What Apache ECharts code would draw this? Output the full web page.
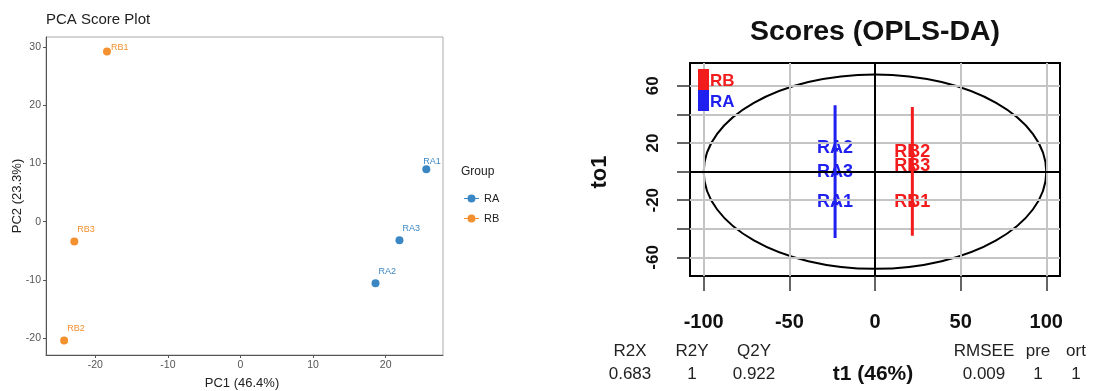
<!DOCTYPE html>
<html>
<head>
<meta charset="utf-8">
<script src="https://cdn.jsdelivr.net/npm/echarts@6/dist/echarts.min.js"></script>
<style>html,body{margin:0;padding:0;background:#fff}#chart{width:1094px;height:391px}</style>
</head>
<body>
<div id="chart"></div>
<script>
// ---------- PCA data ----------
const raNames = ['RA1', 'RA2', 'RA3'];
const raPC1 = [25.6, 18.6, 21.9];
const raPC2 = [9.0, -10.6, -3.2];
const rbNames = ['RB1', 'RB2', 'RB3'];
const rbPC1 = [-18.4, -24.3, -22.9];
const rbPC2 = [29.2, -20.4, -3.4];
const pcaXTicks = [-20, -10, 0, 10, 20];
const pcaYTicks = [-20, -10, 0, 10, 20, 30];
const pcaGroups = ['RA', 'RB'];

// ---------- OPLS-DA data ----------
const oplsRANames = ['RA1', 'RA2', 'RA3'];
const oplsRAt1 = [-23.3, -23.3, -23.3];
const oplsRAto1 = [-21, 16.5, 0];
const oplsRBNames = ['RB1', 'RB2', 'RB3'];
const oplsRBt1 = [21.8, 21.8, 21.8];
const oplsRBto1 = [-21, 13.5, 4.2];
const oplsRASpan = [-46.4, 46.5];
const oplsRBSpan = [-44.8, 45.3];
const ellipseRadii = [100, 68];
const oplsXTicks = [-100, -50, 0, 50, 100];
const oplsYTicks = [-60, -40, -20, 0, 20, 40, 60];
const oplsYLabels = [-60, -20, 20, 60];
const statNames = ['R2X', 'R2Y', 'Q2Y', 'RMSEE', 'pre', 'ort'];
const statValues = ['0.683', '1', '0.922', '0.009', '1', '1'];
const oplsLegend = ['RB', 'RA'];

// ---------- colours / styles ----------
const cRA = '#3b87c4', cRB = '#f39130';
const oRA = '#1f1ff0', oRB = '#f21c1c';
const F = '"Liberation Sans", Arial, sans-serif';

function pcaItems(names, xs, ys) {
  return names.map((n, i) => {
    const item = { name: n, value: [xs[i], ys[i]] };
    if (n === 'RB1') item.label = { position: [8, 0] };
    if (n === 'RA1') item.label = { position: [1, -4] };
    return item;
  });
}
function oplsItems(names, xs, ys) {
  return names.map((n, i) => ({ name: n, value: [xs[i], ys[i]] }));
}

const chart = echarts.init(document.getElementById('chart'), null, { renderer: 'canvas' });

const option = {
  animation: false,
  backgroundColor: '#fff',
  textStyle: { fontFamily: F },
  grid: [
    { left: 46, top: 37, width: 397, height: 318, show: true, borderColor: '#aaa', borderWidth: 1, outerBoundsMode: 'none', containLabel: false },
    { left: 690, top: 63, width: 370, height: 213, show: true, borderColor: '#000', borderWidth: 2, outerBoundsMode: 'none', containLabel: false }
  ],
  xAxis: [
    {
      gridIndex: 0, type: 'value', min: -26.8, max: 27.9,
      axisLine: { show: true, onZero: false, lineStyle: { color: '#555', width: 1 } },
      axisTick: { show: true, inside: false, length: 3, customValues: pcaXTicks, lineStyle: { color: '#555' } },
      axisLabel: { customValues: pcaXTicks, fontSize: 10.5, color: '#555', margin: 5, fontFamily: F },
      splitLine: { show: false }
    },
    {
      gridIndex: 1, type: 'value', min: -108, max: 108,
      axisLine: { show: false, onZero: false },
      axisTick: { show: true, inside: false, length: 15, customValues: oplsXTicks, lineStyle: { color: '#333', width: 1.5 } },
      axisLabel: { customValues: oplsXTicks, fontSize: 20, fontWeight: 'bold', color: '#111', margin: 36, fontFamily: F },
      splitLine: { show: false }
    }
  ],
  yAxis: [
    {
      gridIndex: 0, type: 'value', min: -22.9, max: 31.7,
      axisLine: { show: true, onZero: false, lineStyle: { color: '#555', width: 1 } },
      axisTick: { show: true, inside: false, length: 3, customValues: pcaYTicks, lineStyle: { color: '#555' } },
      axisLabel: { customValues: pcaYTicks, fontSize: 10.5, color: '#555', margin: 5, fontFamily: F },
      splitLine: { show: false }
    },
    {
      gridIndex: 1, type: 'value', min: -73, max: 76,
      axisLine: { show: false, onZero: false },
      axisTick: { show: true, inside: false, length: 13, customValues: oplsYTicks, lineStyle: { color: '#333', width: 1.5 } },
      axisLabel: { customValues: oplsYLabels, rotate: 90, fontSize: 17, fontWeight: 'bold', color: '#111', margin: 28, fontFamily: F },
      splitLine: { show: false }
    }
  ],
  legend: {
    data: pcaGroups, orient: 'vertical', left: 459, top: 188,
    itemWidth: 15, itemHeight: 8, itemGap: 9,
    icon: 'path://M0,3.5 L15,3.5 L15,4.5 L0,4.5 Z M11.5,4 A4,4 0 1 1 3.5,4 A4,4 0 1 1 11.5,4 Z',
    textStyle: { fontSize: 11, color: '#222', fontFamily: F },
    selectedMode: false
  },
  graphic: [
    { type: 'text', left: 46, top: 12, style: { text: 'PCA Score Plot', fontSize: 15, fill: '#222', fontFamily: F } },
    { type: 'text', x: 242, y: 383, style: { text: 'PC1 (46.4%)', fontSize: 13, fill: '#222', fontFamily: F, align: 'center', verticalAlign: 'middle' } },
    { type: 'text', x: 17, y: 196, rotation: Math.PI / 2, style: { text: 'PC2 (23.3%)', fontSize: 13, fill: '#222', fontFamily: F, align: 'center', verticalAlign: 'middle' } },
    { type: 'text', left: 461, top: 166, style: { text: 'Group', fontSize: 12, fill: '#222', fontFamily: F } },
    { type: 'text', x: 875, y: 32, style: { text: 'Scores (OPLS-DA)', fontSize: 28.5, fontWeight: 'bold', fill: '#111', fontFamily: F, align: 'center', verticalAlign: 'middle' } },
    { type: 'text', x: 600, y: 172, rotation: Math.PI / 2, style: { text: 'to1', fontSize: 22, fontWeight: 'bold', fill: '#111', fontFamily: F, align: 'center', verticalAlign: 'middle' } },
    // OPLS legend
    { type: 'rect', shape: { x: 698, y: 69, width: 11, height: 21 }, style: { fill: oRB }, z: 20 },
    { type: 'rect', shape: { x: 698, y: 90, width: 11, height: 21 }, style: { fill: oRA }, z: 20 },
    { type: 'text', x: 710, y: 81, z: 20, style: { text: oplsLegend[0], fontSize: 17, fontWeight: 'bold', fill: oRB, fontFamily: F, verticalAlign: 'middle' } },
    { type: 'text', x: 710, y: 102, z: 20, style: { text: oplsLegend[1], fontSize: 17, fontWeight: 'bold', fill: oRA, fontFamily: F, verticalAlign: 'middle' } }
  ].concat((function () {
    const xs = [630, 692, 754, 984, 1038, 1076];
    const out = [];
    statNames.forEach((n, i) => {
      out.push({ type: 'text', x: xs[i], y: 351, style: { text: n, fontSize: 17, fill: '#222', fontFamily: F, align: 'center', verticalAlign: 'middle' } });
      out.push({ type: 'text', x: xs[i], y: 374, style: { text: statValues[i], fontSize: 17, fill: '#222', fontFamily: F, align: 'center', verticalAlign: 'middle' } });
    });
    out.push({ type: 'text', x: 873, y: 374, style: { text: 't1 (46%)', fontSize: 21, fontWeight: 'bold', fill: '#111', fontFamily: F, align: 'center', verticalAlign: 'middle' } });
    return out;
  })()),
  series: [
    {
      name: 'RA', type: 'scatter', xAxisIndex: 0, yAxisIndex: 0,
      symbolSize: 8, itemStyle: { color: cRA, opacity: 1 },
      label: { show: true, formatter: '{b}', position: [7, -8], align: 'left', verticalAlign: 'middle', fontSize: 9, color: cRA, fontFamily: F },
      data: pcaItems(raNames, raPC1, raPC2)
    },
    {
      name: 'RB', type: 'scatter', xAxisIndex: 0, yAxisIndex: 0,
      symbolSize: 8, itemStyle: { color: cRB, opacity: 1 },
      label: { show: true, formatter: '{b}', position: [7, -8], align: 'left', verticalAlign: 'middle', fontSize: 9, color: cRB, fontFamily: F },
      data: pcaItems(rbNames, rbPC1, rbPC2)
    },
    // OPLS gridlines
    {
      name: 'oplsGrid', type: 'line', xAxisIndex: 1, yAxisIndex: 1, data: [], z: 1,
      markLine: {
        silent: true, symbol: 'none', label: { show: false },
        lineStyle: { color: '#c4c4c4', width: 2, type: 'solid' },
        data: oplsXTicks.filter(v => v !== 0).map(v => ({ xAxis: v })).concat(oplsYTicks.filter(v => v !== 0).map(v => ({ yAxis: v })))
      }
    },
    {
      name: 'oplsZero', type: 'line', xAxisIndex: 1, yAxisIndex: 1, data: [], z: 2,
      markLine: {
        silent: true, symbol: 'none', label: { show: false },
        lineStyle: { color: '#000', width: 2, type: 'solid' },
        data: [{ xAxis: 0 }, { yAxis: 0 }]
      }
    },
    {
      name: 'ellipse', type: 'custom', xAxisIndex: 1, yAxisIndex: 1, z: 3, silent: true,
      data: [[0, 0, ellipseRadii[0], ellipseRadii[1]]],
      renderItem: function (params, api) {
        const c = api.coord([api.value(0), api.value(1)]);
        const s = api.size([api.value(2), api.value(3)]);
        return { type: 'ellipse', shape: { cx: c[0], cy: c[1], rx: s[0], ry: s[1] }, style: { fill: 'none', stroke: '#000', lineWidth: 2 } };
      }
    },
    {
      name: 'oplsRALabels', type: 'scatter', xAxisIndex: 1, yAxisIndex: 1, z: 4,
      symbol: 'triangle', symbolSize: 7, itemStyle: { color: oRA, opacity: 1 },
      label: { show: true, formatter: '{b}', position: 'inside', fontSize: 18, fontWeight: 'bold', color: oRA, fontFamily: F },
      data: oplsItems(oplsRANames, oplsRAt1, oplsRAto1)
    },
    {
      name: 'oplsRBLabels', type: 'scatter', xAxisIndex: 1, yAxisIndex: 1, z: 4,
      symbol: 'triangle', symbolSize: 7, itemStyle: { color: oRB, opacity: 1 },
      label: { show: true, formatter: '{b}', position: 'inside', fontSize: 18, fontWeight: 'bold', color: oRB, fontFamily: F },
      data: oplsItems(oplsRBNames, oplsRBt1, oplsRBto1)
    },
    {
      name: 'oplsRASpan', type: 'line', xAxisIndex: 1, yAxisIndex: 1, z: 5, symbol: 'none',
      lineStyle: { color: oRA, width: 3 },
      data: [[oplsRAt1[0], oplsRASpan[0]], [oplsRAt1[0], oplsRASpan[1]]]
    },
    {
      name: 'oplsRBSpan', type: 'line', xAxisIndex: 1, yAxisIndex: 1, z: 5, symbol: 'none',
      lineStyle: { color: oRB, width: 3 },
      data: [[oplsRBt1[0], oplsRBSpan[0]], [oplsRBt1[0], oplsRBSpan[1]]]
    }
  ]
};
chart.setOption(option);
</script>
</body>
</html>
